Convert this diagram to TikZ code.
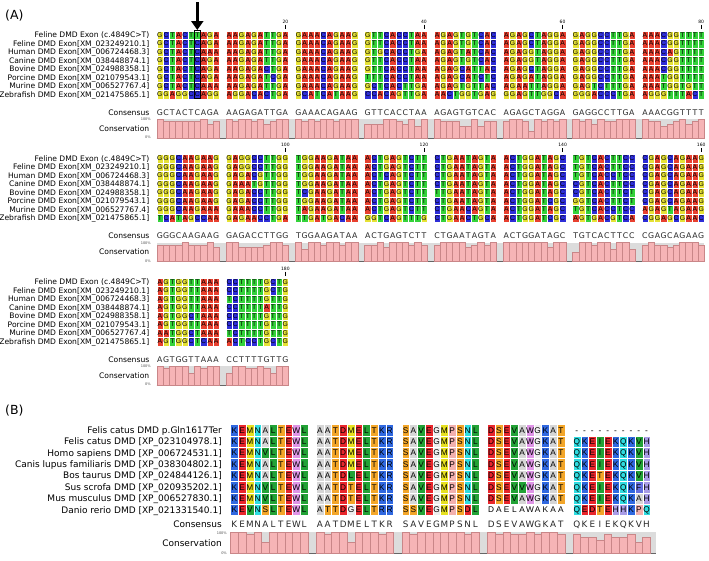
\documentclass[tikz,border=0pt]{standalone}
\usepackage{fontspec}
\setmainfont{DejaVu Sans}
\newfontfamily\cellfont{Liberation Sans}
\usetikzlibrary{arrows.meta}
\newcount\gj \newcount\bj \newcount\bk \newcount\nodecnt
\def\defres#1#2#3{\definecolor{#1#2}{HTML}{#3}\expandafter\def\csname colmap#1#2\endcsname{}}
% nucleotides
\defres{n}{A}{E8402F}
\defres{n}{C}{2E2ED8}
\defres{n}{G}{E6E236}
\defres{n}{T}{34D23A}
% amino acids
\defres{p}{K}{3068E0}
\defres{p}{R}{3068E0}
\defres{p}{E}{E8262C}
\defres{p}{D}{E8262C}
\defres{p}{M}{E6E020}
\defres{p}{N}{2EDCE0}
\defres{p}{Q}{2EDCE0}
\defres{p}{L}{22A236}
\defres{p}{V}{22A236}
\defres{p}{I}{22A236}
\defres{p}{T}{F3A629}
\defres{p}{S}{F3A629}
\defres{p}{W}{DE94E6}
\defres{p}{A}{D6D6D6}
\defres{p}{G}{EEEEEE}
\defres{p}{P}{F2B0AE}
\defres{p}{H}{A89CE6}
\defres{p}{F}{6670E0}
\definecolor{barpink}{HTML}{F6B4B6}
\definecolor{bardark}{HTML}{C98688}
\definecolor{barbgc}{HTML}{DCDCDC}

\tikzset{
 cellt/.style={font=\cellfont\fontsize{6.8}{7}\selectfont,inner sep=0pt,anchor=base},
 const/.style={font=\fontsize{7.8}{8}\selectfont,inner sep=0pt,anchor=base,text=black!85},
 lbl/.style={font=\fontsize{7.6}{8}\selectfont,inner sep=0pt,anchor=base east},
 lblB/.style={font=\fontsize{9}{10}\selectfont,inner sep=0pt,anchor=base east},
 tinyl/.style={font=\fontsize{3.5}{4}\selectfont,inner sep=0pt,anchor=base east,text=black!70},
 posn/.style={font=\fontsize{4.5}{5}\selectfont,inner sep=0pt,anchor=base},
 panel/.style={font=\fontsize{12.5}{14}\selectfont,anchor=west,inner sep=0pt},
 barbg/.style={fill=barbgc},
 barline/.style={draw=black!60,line width=0.6pt},
 barfill/.style={fill=barpink,draw=bardark,line width=0.35pt},
}

\def\sqreset{\global\gj=0 \global\bj=0 \global\bk=0 }
\def\sqnext{\global\advance\gj by 1 \global\advance\bj by 1 \ifnum\bj=10 \global\bj=0 \global\advance\bk by 1 \fi}

\def\seqrow#1#2{\def\sqrowy{#1}\sqreset\seqloop#2\relax}
\def\seqloop#1{\ifx#1\relax\else\putcell{#1}\sqnext\expandafter\seqloop\fi}
\def\putcell#1{%
  \pgfmathsetmacro\sqcx{\sqxs+\the\bk*\sqbp+\the\bj*\sqcw}%
  \ifcsname colmap\sqpal#1\endcsname
    \edef\sqcurcol{\sqpal#1}%
    \fill[fill=\sqcurcol,draw=white,line width=0.3pt] (\sqcx,\sqrowy-\sqrh/2) rectangle (\sqcx+\sqcw,\sqrowy+\sqrh/2);
  \fi
  \uppercase{\gdef\sqtmpc{#1}}%
  \global\advance\nodecnt by 1
  \node[cellt] (n\the\nodecnt) at (\sqcx+\sqcw/2,\sqrowy+\sqcbase) {\sqtmpc};
  \ifcsname cons\the\gj\endcsname
    \if\sqtmpc\csname cons\the\gj\endcsname
      \expandafter\xdef\csname cnt\the\gj\endcsname{\the\numexpr\csname cnt\the\gj\endcsname+1\relax}%
    \fi
  \fi}

\def\setcons#1{\sqreset\setconsloop#1\relax}
\def\setconsloop#1{\ifx#1\relax\else\expandafter\gdef\csname cons\the\gj\endcsname{#1}\expandafter\gdef\csname cnt\the\gj\endcsname{0}\sqnext\expandafter\setconsloop\fi}

\def\consrow#1#2#3#4#5#6{%
  \def\sqcty{#1}\def\sqbtop{#2}\def\sqbbot{#3}\def\sqnrows{#4}%
  \fill[barbg] (\sqxs,\sqbtop) rectangle (#5,\sqbbot);
  \draw[barline] (\sqxs,\sqbbot) -- (#5,\sqbbot);
  \sqreset\consloop#6\relax}
\def\consloop#1{\ifx#1\relax\else\putcons{#1}\sqnext\expandafter\consloop\fi}
\def\putcons#1{%
  \pgfmathsetmacro\sqcx{\sqxs+\the\bk*\sqbp+\the\bj*\sqcw}%
  \edef\sqcnt{\csname cnt\the\gj\endcsname}%
  \pgfmathsetmacro\sqhh{(\sqbbot-\sqbtop)*\sqcnt/\sqnrows}%
  \global\advance\nodecnt by 1
  \node[const] (n\the\nodecnt) at (\sqcx+\sqcw/2,\sqcty) {#1};
  \fill[barfill] (\sqcx,\sqbbot) rectangle (\sqcx+\sqcw,\sqbbot-\sqhh);}

\newcommand\posnum[3]{%
  \pgfmathsetmacro\sqpx{\sqxs+#1*\sqbp+9.5*\sqcw}%
  \node[posn] (pos#2) at (\sqpx,#3-12) {#2};
  \draw[line width=0.5pt] (\sqpx,#3-10.5) -- (\sqpx,#3-6.5);}

\newcommand\labelsA[2]{%
 \foreach \t [count=\i from 0] in {Feline DMD Exon (c.4849C>T),Feline DMD Exon[XM\_023249210.1],Human DMD Exon[XM\_006724468.3],Canine DMD Exon[XM\_038448874.1],Bovine DMD Exon[XM\_024988358.1],Porcine DMD Exon[XM\_021079543.1],Murine DMD Exon[XM\_006527767.4],Zebrafish DMD Exon[XM\_021475865.1]}
   {\node[lbl] (lab#2\i) at (149.5,#1+\i*8.5+2.7) {\t};}
 \node[lbl] (cons#2) at (149.5,#1+77.5+2.8) {Consensus};
 \node[lbl] (consv#2) at (149.5,#1+93.5+2.8) {Conservation};
 \node[tinyl] (hi#2) at (151,#1+85.5) {100\%};
 \node[tinyl] (lo#2) at (151,#1+103.5) {0\%};
}

\begin{document}
\begin{tikzpicture}[x=1pt,y=-1pt]
\useasboundingbox (0,0) rectangle (709,560);
\node[panel] (pA) at (5,16) {(A)};
\node[panel] (pB) at (5,411) {(B)};

% ---------------- Panel A ----------------
\def\sqpal{n}\def\sqxs{156.7}\def\sqcw{6.25}\def\sqbp{69.3}\def\sqrh{8.5}\def\sqcbase{2.45}

% block row 1
\labelsA{35}{a}
\posnum{1}{20}{35}\posnum{3}{40}{35}\posnum{5}{60}{35}\posnum{7}{80}{35}
\setcons{GCTACTCAGA AAGAGATTGA GAAACAGAAG GTTCACCTAA AGAGTGTCAC AGAGCTAGGA GAGGCCTTGA AAACGGTTTT}
\seqrow{35}{GCTACTTAGA AAGAGATTGA GAAACAGAAG GTTCACCTAA AGAGTGTCAC AGAGCTAGGA GAGGCCTTGA AAACGGTTTT}
\seqrow{43.5}{GCTACTCAGA AAGAGATTGA GAAACAGAAG GTTCACCTAA AGAGTGTCAC AGAGCTAGGA GAGGCCTTGA AAACGGTTTT}
\seqrow{52}{GCTACTCAAA AAGAGATTGA GAAACAGAAG GTGCACCTGA AGAGTATCAC AGAGGTAGGA GAGGCCTTGA AAACAGTTTT}
\seqrow{60.5}{GCTACTCAGA AAGAGATTGA GAAACAGAAG GTTCACCTAA AGAGTGTCAC AGAGGTAGGA GAGGCCTTGA AAACGGTTTT}
\seqrow{69}{GCTACTCAGA AAGAGACTGA GAAACAGAAG GTTCACCTAA AGAGCATTAC AGAGCTAGGA GAGGCCTTGA AAACGGTTTT}
\seqrow{77.5}{GCTACTCAGA AAGAGATCGA GAAACAGAAG TTTCACCTAA AGAGCATCTC AGAGATAGGA GAGGCCTTGA AAATGGTTTT}
\seqrow{86}{GCTACTCAAA AAGAGATTGA GAAACAGAAG GCTCACTTGA AGAGTGTTAC AGAATTAGGA GAGTCTTTGA AAATGGTGTT}
\seqrow{94.5}{GGAGGCCAGG AGGACACTGA GCATCATAAG CCACAGTTGA AACTGGTGAG GGAGTTGGCA GGGACCCTGA AGGGTTTACT}
\consrow{115.2}{119}{138}{8}{704.3}{GCTACTCAGA AAGAGATTGA GAAACAGAAG GTTCACCTAA AGAGTGTCAC AGAGCTAGGA GAGGCCTTGA AAACGGTTTT}

% mutation marker
\coordinate (arrS) at (197.3,2);
\coordinate (arrE) at (197.3,30);
\draw[line width=3.4pt,-{Triangle[width=12pt,length=9pt]}] (arrS) -- (arrE);
\draw[line width=1.1pt] (194.2,30.75) rectangle (200.45,98.75);

% block row 2
\labelsA{158.5}{b}
\posnum{1}{100}{158.5}\posnum{3}{120}{158.5}\posnum{5}{140}{158.5}\posnum{7}{160}{158.5}
\setcons{GGGCAAGAAG GAGACCTTGG TGGAAGATAA ACTGAGTCTT CTGAATAGTA ACTGGATAGC TGTCACTTCC CGAGCAGAAG}
\seqrow{158.5}{GGGCAAGAAG GAGGCCTTGG TGGAAGATAA ACTGAGTCTT CTGAATAGTA ACTGGATAGC TGTCACTTCC CGAGCAGAAG}
\seqrow{167}{GGGCAAGAAG GAGGCCTTGG TGGAAGATAA ACTGAGTCTT CTGAATAGTA ACTGGATAGC TGTCACTTCC CGAGCAGAAG}
\seqrow{175.5}{GGGCAAGAAG GAGACGTTGG TGGAAGATAA ACTCAGTCTT CTGAATAGTA ACTGGATAGC TGTCACCTCC CGAGCAGAAG}
\seqrow{184}{GGGCAAGAAG GAAATGTTGG TGGAAGATAA ACTGAGTCTT CTGAATAGTA ACTGGATAGC CGTCACTTCC CGAGCAGAAG}
\seqrow{192.5}{GGGCAAGAAG GAGACCTTGG TCGAAGATAA ACTGAGTCTT TTGAATAGTA ACTGGATAGC CGTCACTTCT CGAGCAGAAG}
\seqrow{201}{GGGCAAGAAG GAGACCTTGG TGGAAGATAA ACTGAGTCTT CTGAATAGTA ACTGGATCGC GGTCACTTCT CGAGCAGAAG}
\seqrow{209.5}{GGGCAAGAAA GAAACCTTGG TAGAAGATAA ACTGAGTCTT CTGAACAGTA ACTGGATAGC TGTCACCTCC AGAGTAGAAG}
\seqrow{218}{TCATAGCCAA GAGAACCTGA TTGATGACAA GGTCAGTTTG CTGAACTGCA ACTGGATCGC AGTGACGTCA CGGAGCGAAC}
\consrow{238.7}{242.5}{261.5}{8}{704.3}{GGGCAAGAAG GAGACCTTGG TGGAAGATAA ACTGAGTCTT CTGAATAGTA ACTGGATAGC TGTCACTTCC CGAGCAGAAG}

% block row 3
\labelsA{282}{c}
\posnum{1}{180}{282}
\setcons{AGTGGTTAAA CCTTTTGTTG}
\seqrow{282}{AGTGGTTAAA CCTTTTGCTG}
\seqrow{290.5}{AGTGGTTAAA CCTTTTGCTG}
\seqrow{299}{AGTGGTTAAA TCTTTTGTTG}
\seqrow{307.5}{AGTGGTTAAA CCTTTTATTG}
\seqrow{316}{AGTGGCTAAA CCTTTTGTTG}
\seqrow{324.5}{AGTGGTTAAA CCTTTTGTTG}
\seqrow{333}{AATGGCTAAA TCTTTTGTTG}
\seqrow{341.5}{AGTGGCTCAA ACTCCTGCTG}
\consrow{362.2}{366}{385}{8}{288.5}{AGTGGTTAAA CCTTTTGTTG}

% ---------------- Panel B ----------------
\def\sqpal{p}\def\sqxs{230.5}\def\sqcw{7.75}\def\sqbp{85.6}\def\sqrh{11.4}\def\sqcbase{3.0}
\tikzset{cellt/.style={font=\cellfont\fontsize{8.3}{9}\selectfont,inner sep=0pt,anchor=base},
         const/.style={font=\fontsize{8.8}{9}\selectfont,inner sep=0pt,anchor=base,text=black!85}}
\foreach \t [count=\i from 0] in {Felis catus DMD p.Gln1617Ter,Felis catus DMD [XP\_023104978.1],Homo sapiens DMD [XP\_006724531.1],Canis lupus familiaris DMD [XP\_038304802.1],Bos taurus DMD [XP\_024844126.1],Sus scrofa DMD [XP\_020935202.1],Mus musculus DMD [XP\_006527830.1],Danio rerio DMD [XP\_021331540.1]}
  {\node[lblB] (labp\i) at (222,430+\i*11.4+3.3) {\t};}
\node[lblB] (consp) at (222,524.5+3.3) {Consensus};
\node[lblB] (consvp) at (222,543+3.3) {Conservation};
\node[tinyl] (hip) at (227,534) {100\%};
\node[tinyl] (lop) at (227,554) {0\%};
\setcons{KEMNALTEWL AATDMELTKR SAVEGMPSNL DSEVAWGKAT QKEIEKQKVH}
\seqrow{430}{KEMNALTEWL AATDMELTKR SAVEGMPSNL DSEVAWGKAT ----------}
\seqrow{441.4}{KEMNALTEWL AATDMELTKR SAVEGMPSNL DSEVAWGKAT QKEIEKQKVH}
\seqrow{452.8}{KEMNVLTEWL AATDMELTKR SAVEGMPSNL DSEVAWGKAT QKEIEKQKVH}
\seqrow{464.2}{KEMNALTEWL AATDMELTKR SAVEGMPSNL DSEVAWGKAT QKEIEKQKVH}
\seqrow{475.6}{KEMNALTEWL AATDLELTKR SAVEGMPSNL DSEVAWGKAT QKETEKQKVH}
\seqrow{487}{KEMNVLTEWL AATDTELTKR SAVEGMPSNL DSEVVWGKAT QKEIEKQKFH}
\seqrow{498.4}{KEMNVLTEWL AATDTELTKR SAVEGMPSNL DSEVAWGKAT QKEIEKQKAH}
\seqrow{509.8}{KEVNSLTEWL ATTDGELTRR SSVEGMPSDL daelawakaa QEDTEHHKPQ}
\consrow{527.5}{532}{553}{8}{656}{KEMNALTEWL AATDMELTKR SAVEGMPSNL DSEVAWGKAT QKEIEKQKVH}
\end{tikzpicture}
\end{document}
